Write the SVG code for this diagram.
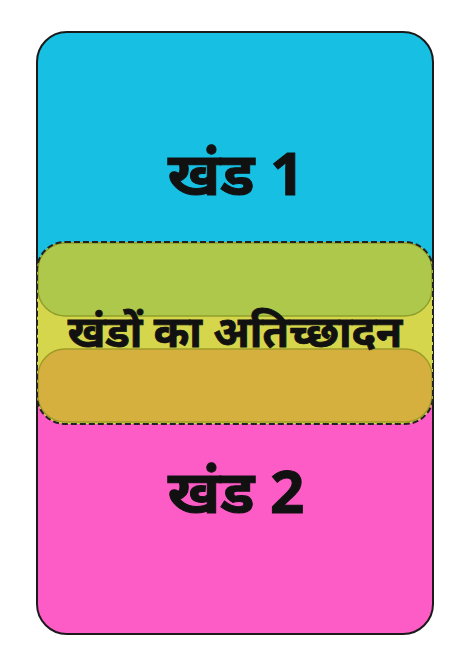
<svg xmlns="http://www.w3.org/2000/svg" width="472" height="672" viewBox="0 0 472 672">
<style>
.lbl{font-family:"Noto Sans","Noto Sans Devanagari","Lohit Devanagari","FreeSans",sans-serif;font-weight:bold;fill:#111;text-anchor:middle}
.band{stroke-width:1.4}
</style>
<rect width="472" height="672" fill="#ffffff"/>
<g id="segment1">
<path d="M37,333 V62 A30,30 0 0 1 67,32 H403 A30,30 0 0 1 433,62 V333 Z" fill="#17c0e3"/>
<text class="lbl" x="236" y="195" font-size="60" stroke="#111" stroke-width="1">खंड 1</text>
</g>
<g id="segment2">
<path d="M37,333 V604 A30,30 0 0 0 67,634 H403 A30,30 0 0 0 433,604 V333 Z" fill="#fd5cc6"/>
<text class="lbl" x="236" y="513" font-size="60" stroke="#111" stroke-width="1">खंड 2</text>
</g>
<rect x="37" y="32" width="396" height="602" rx="30" fill="none" stroke="#1a1a1a" stroke-width="2"/>
<g id="overlap">
<rect x="37" y="242" width="396" height="182" rx="28" fill="#d6d64c"/>
<rect class="band" x="38" y="243" width="394" height="73" rx="27" fill="#adc84a" stroke="#8f9e2a"/>
<rect class="band" x="38" y="349" width="394" height="73" rx="27" fill="#d5b03f" stroke="#a09a2a"/>
<rect x="37" y="242" width="396" height="182" rx="28" fill="none" stroke="#222" stroke-width="2" stroke-dasharray="6,3"/>
<text class="lbl" x="235" y="347" font-size="43" stroke="#111" stroke-width="0.8">खंडों का अतिच्छादन</text>
</g>
<g id="connectors"/>
</svg>
